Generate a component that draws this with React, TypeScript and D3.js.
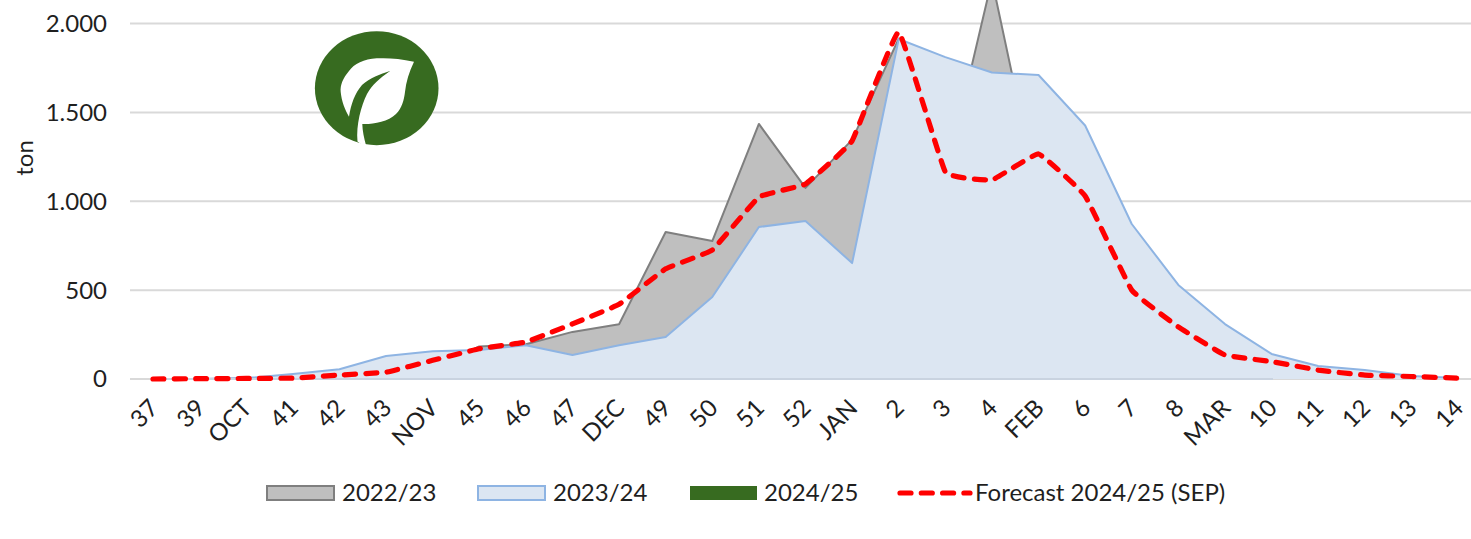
import React from "react";
import * as d3 from "d3";

const categories = ["37","39","OCT","41","42","43","NOV","45","46","47","DEC","49","50","51","52","JAN","2","3","4","FEB","6","7","8","MAR","10","11","12","13","14"];
const series2223 = [0,0,2,5,10,20,60,183,195,265,308,827,776,1435,1075,1345,1915,1130,2245,1018,800,500,300,150,50];
const series2324 = [0,0,5,28,55,129,156,163,190,135,190,236,461,855,889,652,1913,1811,1724,1710,1426,872,529,309,141,73,51,17,6];
const forecast = [0,2,3,5,22,38,105,170,208,310,420,620,726,1024,1097,1340,1952,1165,1120,1266,1030,500,293,135,98,50,22,14,5];
const yTicks = [0,500,1000,1500,2000];
const legendItems = ["2022/23","2023/24","2024/25","Forecast 2024/25 (SEP)"];

const W = 1471, H = 539;
const FONT = "Lato, 'Open Sans', sans-serif";
const TEXT = "#1f1f1f";
const FS = 24;

const x = d3.scalePoint<string>().domain(categories).range([153, 1458]);
const y = d3.scaleLinear().domain([0, 2000]).range([379, 23.5]);
const xi = (_: number, i: number) => x(categories[i]) as number;

const area = d3.area<number>().x(xi).y0(y(0)).y1((d) => y(d));
const topLine = d3.line<number>().x(xi).y((d) => y(d));
const redLine = d3.line<number>().x(xi).y((d) => y(d)).curve(d3.curveCardinal.tension(0.75));
const fmt = (v: number) => (v === 0 ? "0" : d3.format(",")(v).replace(",", "."));

const LEAF = "M414 61.7C400 58.5 388 57.8 376.7 58.3C364 59 354 64 349 71C343 78 340 85 340.7 92C341.5 101 345 110 349 116.7C351 104 355 93 362 85C370 78 380 74 390 71C380 78 372 85 367 94C361 106 356 125 357.5 141.5C360 144 363 145 366 145.2C364 138 362.5 131 362.3 124C372 124.5 388 122 396 114C402 108 404 100 405 92C406 82 409 72 414 61.7Z";

export default function App() {
  const swatches = [
    { x: 267, fill: "#bfbfbf", stroke: "#7f7f7f" },
    { x: 478, fill: "#dce6f2", stroke: "#8eb4e3" },
    { x: 690, fill: "#376b20", stroke: "none" },
  ];
  const legendTextX = [342, 553, 764, 975];
  return (
    <svg width={W} height={H} style={{ position: "absolute", left: 0, top: 0, background: "#fff" }} fontFamily={FONT}>
      {yTicks.map((t) => (
        <g key={t}>
          <line x1={130} x2={W} y1={y(t)} y2={y(t)} stroke="#d9d9d9" strokeWidth={2} />
          <text x={107} y={y(t)} dy="0.35em" textAnchor="end" fontSize={FS} fill={TEXT}>{fmt(t)}</text>
        </g>
      ))}
      <text transform="translate(25,158) rotate(-90)" dy="0.35em" textAnchor="middle" fontSize={FS} fill={TEXT}>ton</text>

      <path d={area(series2223) as string} fill="#bfbfbf" />
      <path d={topLine(series2223) as string} fill="none" stroke="#7f7f7f" strokeWidth={2} strokeLinejoin="round" />
      <path d={area(series2324) as string} fill="#dce6f2" />
      <path d={topLine(series2324) as string} fill="none" stroke="#8eb4e3" strokeWidth={2} strokeLinejoin="round" />
      <line x1={153} x2={1273} y1={y(0)} y2={y(0)} stroke="#c9d3e0" strokeWidth={2} />
      <path d={redLine(forecast) as string} fill="none" stroke="#ff0000" strokeWidth={5.2} strokeLinecap="round" strokeDasharray="11 10.3" />

      {categories.map((c) => (
        <text key={c} transform={`translate(${(x(c) as number) + 1},403.5) rotate(-45)`} dy="0.35em" textAnchor="end" fontSize={FS} fill={TEXT}>{c}</text>
      ))}

      <ellipse cx={376.7} cy={88.2} rx={61.8} ry={57} fill="#376b20" />
      <path d={LEAF} fill="#fff" />

      {swatches.map((s) => (
        <rect key={s.x} x={s.x} y={486} width={67} height={14} fill={s.fill} stroke={s.stroke} strokeWidth={2} />
      ))}
      <line x1={900} x2={970} y1={493} y2={493} stroke="#ff0000" strokeWidth={5.2} strokeLinecap="round" strokeDasharray="11 10.3" />
      {legendItems.map((l, i) => (
        <text key={l} x={legendTextX[i]} y={493} dy="0.35em" fontSize={FS} fill={TEXT}>{l}</text>
      ))}
    </svg>
  );
}
